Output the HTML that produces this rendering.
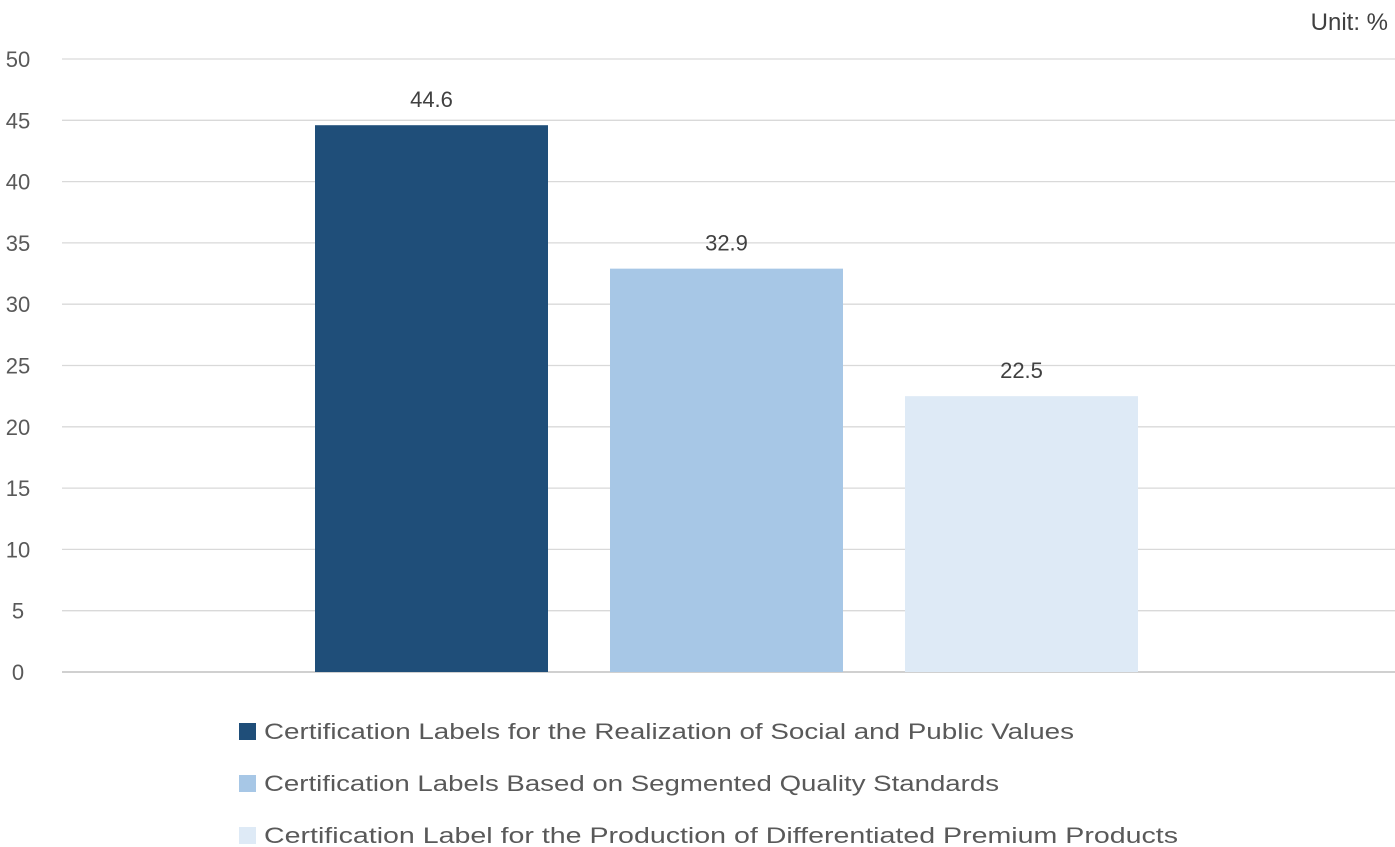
<!DOCTYPE html>
<html><head><meta charset="utf-8"><style>
html,body{margin:0;padding:0;background:#fff;}
svg{display:block;font-family:"Liberation Sans",sans-serif;}
</style></head><body>
<svg id="chart" width="1395" height="847"></svg>
<script>
const categories = ["Certification Labels for the Realization of Social and Public Values","Certification Labels Based on Segmented Quality Standards","Certification Label for the Production of Differentiated Premium Products"];
const values = [44.6, 32.9, 22.5];
const labels = ["44.6","32.9","22.5"];
const ticks = [0,5,10,15,20,25,30,35,40,45,50];
const colors = ["#1F4E79","#A7C7E6","#DEEAF6"];
const legendWidths = [810, 735, 914];

const NS="http://www.w3.org/2000/svg";
const svg=document.getElementById('chart');
const x0=62,x1=1395,yTop=59,yBot=672,yMax=50;
const y=v=>yBot-(v/yMax)*(yBot-yTop);
function el(t,a,p){const e=document.createElementNS(NS,t);for(const k in a)e.setAttribute(k,a[k]);(p||svg).appendChild(e);return e;}

const unit=el('text',{x:1388,y:30,'text-anchor':'end','font-size':24,fill:'#404040'});
unit.textContent='Unit: %';



ticks.forEach(t=>{
  const g=el('line',{x1:x0,x2:x1,y1:y(t),y2:y(t),stroke:t===0?'#d0d0d0':'#d9d9d9','stroke-width':t===0?2:1.3});
  
  
  const l=el('text',{x:18,y:y(t)+8,'text-anchor':'middle','font-size':22,fill:'#595959'});
  l.textContent=t;
  
  
});

const bw=233,gap=62,start=315;
values.forEach((v,i)=>{
  const bx=start+i*(bw+gap);
  const r=el('rect',{x:bx,y:y(v),width:bw,height:yBot-y(v),fill:colors[i]});
  
  
  const t=el('text',{x:bx+bw/2,y:y(v)-18,'text-anchor':'middle','font-size':22,fill:'#404040'});
  t.textContent=labels[i];
  
  
});

categories.forEach((c,i)=>{
  const ly=723+i*52;
  const s=el('rect',{x:239,y:ly,width:17,height:17,fill:colors[i]});
  
  
  const t=el('text',{x:264,y:ly+16,'font-size':22,fill:'#595959',textLength:legendWidths[i],lengthAdjust:'spacingAndGlyphs'});
  t.textContent=c;
  
  
});
</script>
</body></html>
